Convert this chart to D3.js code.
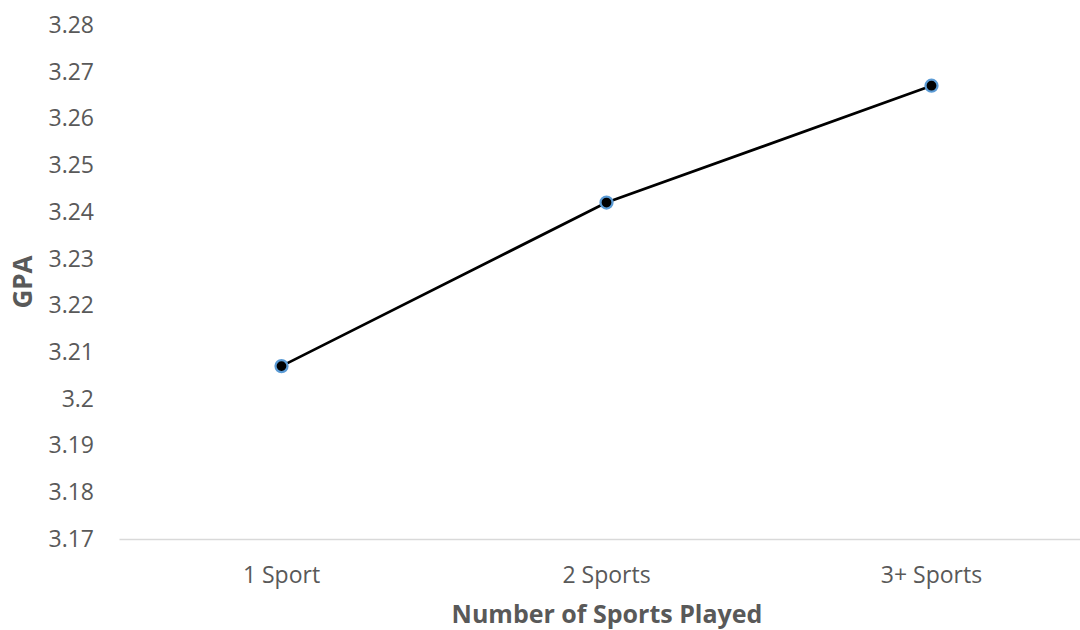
<!DOCTYPE html>
<html>
<head>
<meta charset="utf-8">
<script src="https://cdn.jsdelivr.net/npm/d3@7"></script>
<style>
  html, body { margin: 0; padding: 0; background: #fff; }
  svg { display: block; }
</style>
</head>
<body>
<svg id="chart" width="1080" height="630"></svg>
<script>
// GPA by number of sports played
const categories = ["1 Sport", "2 Sports", "3+ Sports"];
const gpaValues = [3.207, 3.242, 3.267];
const yTicks = [3.17, 3.18, 3.19, 3.2, 3.21, 3.22, 3.23, 3.24, 3.25, 3.26, 3.27, 3.28];

const svg = d3.select("#chart");
const font = "'Open Sans', 'Noto Sans', sans-serif";
const textColor = "#595959";

const x = d3.scaleBand().domain(categories).range([119, 1094]);
const y = d3.scaleLinear().domain([3.17, 3.28]).range([539, 25]);

// y tick labels (no axis line or gridlines)
const yAxis = svg.append("g")
  .attr("transform", "translate(94,0)")
  .call(d3.axisLeft(y).tickValues(yTicks).tickSize(0).tickPadding(0)
    .tickFormat(d => String(+d.toFixed(2))));
yAxis.select(".domain").remove();
yAxis.selectAll("text")
  .attr("font-family", font).attr("font-size", 23).attr("fill", textColor);

// x axis baseline and category labels
const xAxis = svg.append("g")
  .attr("transform", `translate(0,${y(3.17)})`)
  .call(d3.axisBottom(x).tickSize(0).tickPadding(28));
xAxis.select(".domain").attr("stroke", "#d9d9d9").attr("stroke-width", 1.5);
xAxis.selectAll("text")
  .attr("font-family", font).attr("font-size", 23).attr("fill", textColor);

// axis titles
svg.append("text")
  .attr("x", 607).attr("y", 623)
  .attr("text-anchor", "middle")
  .attr("font-family", font).attr("font-size", 25).attr("font-weight", "bold")
  .attr("fill", textColor)
  .text("Number of Sports Played");

svg.append("text")
  .attr("transform", `translate(32,${(y(3.17) + y(3.28)) / 2}) rotate(-90)`)
  .attr("text-anchor", "middle")
  .attr("font-family", font).attr("font-size", 26).attr("font-weight", "bold")
  .attr("fill", textColor)
  .text("GPA");

const cx = d => x(d) + x.bandwidth() / 2;
const data = categories.map((c, i) => ({ c, v: gpaValues[i] }));

// series line
svg.append("path")
  .datum(data)
  .attr("fill", "none")
  .attr("stroke", "#000")
  .attr("stroke-width", 2.75)
  .attr("d", d3.line().x(d => cx(d.c)).y(d => y(d.v)));

// markers
svg.selectAll("circle.pt")
  .data(data)
  .join("circle")
  .attr("class", "pt")
  .attr("cx", d => cx(d.c))
  .attr("cy", d => y(d.v))
  .attr("r", 6)
  .attr("fill", "#000")
  .attr("stroke", "#5b9bd5")
  .attr("stroke-width", 2.25);
</script>
</body>
</html>
